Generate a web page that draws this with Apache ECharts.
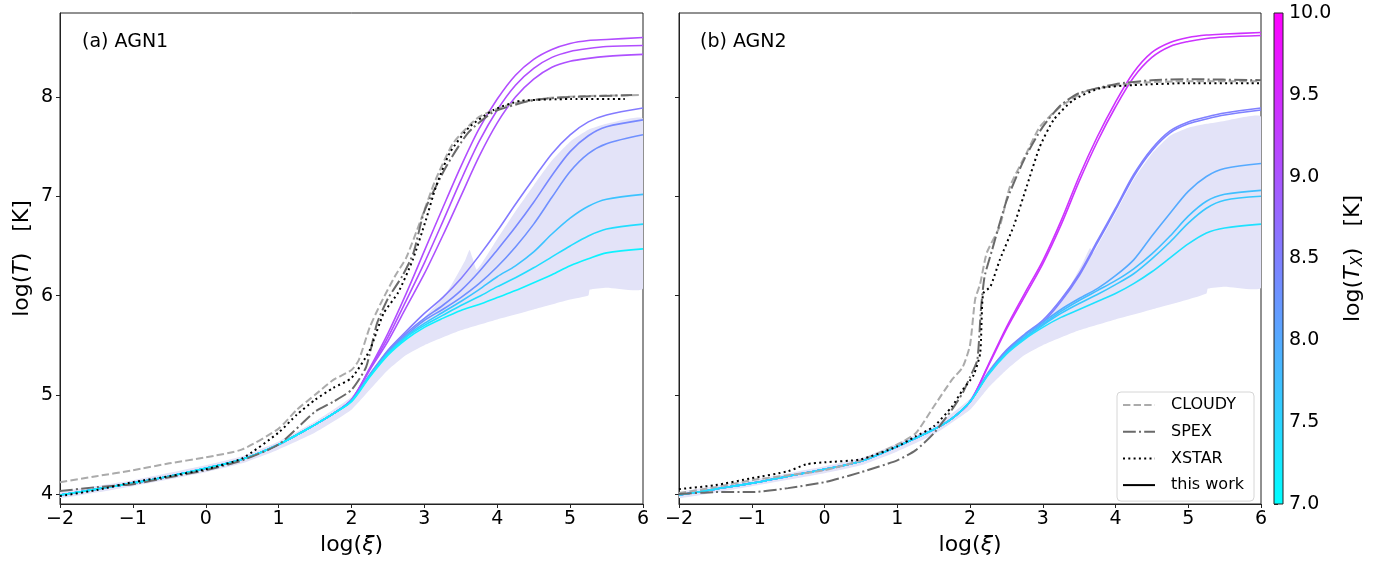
<!DOCTYPE html>
<html>
<head>
<meta charset="utf-8">
<script src="https://cdn.jsdelivr.net/npm/echarts@6/dist/echarts.min.js"></script>
<style>
  html, body { margin: 0; padding: 0; background: #fff; }
  #chart { width: 1384px; height: 564px; }
</style>
</head>
<body>
<div id="chart"></div>
<script>
// ---------------- data ----------------
// log(xi) grid shared by the model curves ("this work")
const LOG_XI = [-2, -1.5, -1, -0.5, 0, 0.5, 1, 1.5, 1.75, 2, 2.25, 2.5, 2.75, 3, 3.25, 3.5, 3.75, 4, 4.25, 4.5, 4.75, 5, 5.25, 5.5, 6];

// AGN1 model curves, log(T)
const AGN1_T = [
  [3.99, 4.05, 4.11, 4.18, 4.26, 4.35, 4.50, 4.70, 4.81, 4.95, 5.27, 5.62, 6.02, 6.45, 6.88, 7.30, 7.68, 7.98, 8.22, 8.38, 8.48, 8.54, 8.57, 8.58, 8.60],
  [3.99, 4.05, 4.11, 4.18, 4.26, 4.35, 4.50, 4.70, 4.81, 4.95, 5.26, 5.58, 5.95, 6.33, 6.74, 7.16, 7.55, 7.87, 8.12, 8.29, 8.40, 8.46, 8.49, 8.51, 8.52],
  [3.99, 4.05, 4.11, 4.18, 4.26, 4.35, 4.50, 4.70, 4.81, 4.95, 5.25, 5.54, 5.88, 6.22, 6.60, 7.00, 7.40, 7.74, 8.00, 8.18, 8.30, 8.36, 8.39, 8.41, 8.43],
  [3.99, 4.05, 4.11, 4.18, 4.26, 4.35, 4.50, 4.70, 4.81, 4.94, 5.20, 5.45, 5.64, 5.82, 5.98, 6.17, 6.40, 6.65, 6.92, 7.18, 7.43, 7.62, 7.75, 7.82, 7.89],
  [3.99, 4.05, 4.11, 4.18, 4.26, 4.35, 4.50, 4.70, 4.81, 4.94, 5.20, 5.44, 5.62, 5.77, 5.90, 6.05, 6.24, 6.46, 6.69, 6.94, 7.21, 7.45, 7.61, 7.70, 7.77],
  [3.99, 4.05, 4.11, 4.18, 4.26, 4.35, 4.50, 4.70, 4.81, 4.94, 5.20, 5.43, 5.60, 5.75, 5.86, 5.98, 6.12, 6.29, 6.49, 6.72, 6.99, 7.25, 7.43, 7.53, 7.62],
  [3.99, 4.05, 4.11, 4.18, 4.26, 4.35, 4.50, 4.70, 4.81, 4.94, 5.19, 5.42, 5.59, 5.72, 5.83, 5.94, 6.06, 6.19, 6.30, 6.44, 6.62, 6.78, 6.90, 6.97, 7.02],
  [3.99, 4.05, 4.11, 4.18, 4.26, 4.35, 4.50, 4.70, 4.81, 4.94, 5.19, 5.41, 5.58, 5.70, 5.80, 5.90, 5.99, 6.09, 6.18, 6.28, 6.39, 6.50, 6.60, 6.67, 6.72],
  [3.99, 4.05, 4.11, 4.18, 4.26, 4.35, 4.50, 4.70, 4.81, 4.93, 5.18, 5.40, 5.56, 5.68, 5.77, 5.85, 5.91, 5.98, 6.05, 6.13, 6.21, 6.30, 6.37, 6.43, 6.47]
];
// log(T_X) of each AGN1 curve (sets its colour)
const AGN1_TX = [9.10, 9.08, 9.05, 8.55, 8.40, 8.30, 7.70, 7.40, 7.15];

// AGN2 model curves, log(T)
const AGN2_T = [
  [3.99, 4.05, 4.11, 4.18, 4.25, 4.33, 4.48, 4.65, 4.76, 4.93, 5.30, 5.68, 6.02, 6.35, 6.75, 7.20, 7.60, 7.95, 8.25, 8.45, 8.55, 8.60, 8.625, 8.635, 8.65],
  [3.99, 4.05, 4.11, 4.18, 4.25, 4.33, 4.48, 4.65, 4.76, 4.93, 5.29, 5.66, 5.99, 6.32, 6.71, 7.15, 7.55, 7.90, 8.20, 8.40, 8.51, 8.56, 8.59, 8.605, 8.62],
  [3.99, 4.05, 4.11, 4.18, 4.25, 4.33, 4.48, 4.65, 4.76, 4.93, 5.22, 5.45, 5.61, 5.75, 5.96, 6.22, 6.55, 6.88, 7.22, 7.48, 7.66, 7.75, 7.80, 7.84, 7.89],
  [3.99, 4.05, 4.11, 4.18, 4.25, 4.33, 4.48, 4.65, 4.76, 4.93, 5.22, 5.44, 5.60, 5.73, 5.94, 6.20, 6.53, 6.86, 7.20, 7.46, 7.64, 7.73, 7.78, 7.82, 7.87],
  [3.99, 4.05, 4.11, 4.18, 4.25, 4.33, 4.48, 4.65, 4.76, 4.93, 5.21, 5.43, 5.60, 5.73, 5.86, 5.97, 6.07, 6.20, 6.36, 6.60, 6.83, 7.05, 7.20, 7.28, 7.33],
  [3.99, 4.05, 4.11, 4.18, 4.25, 4.33, 4.48, 4.65, 4.76, 4.93, 5.21, 5.42, 5.58, 5.71, 5.84, 5.95, 6.05, 6.15, 6.27, 6.42, 6.60, 6.80, 6.95, 7.02, 7.06],
  [3.99, 4.05, 4.11, 4.18, 4.25, 4.33, 4.48, 4.65, 4.76, 4.93, 5.21, 5.42, 5.57, 5.70, 5.82, 5.92, 6.01, 6.11, 6.22, 6.37, 6.54, 6.73, 6.88, 6.96, 7.00],
  [3.99, 4.05, 4.11, 4.18, 4.25, 4.33, 4.48, 4.65, 4.76, 4.93, 5.20, 5.41, 5.56, 5.68, 5.78, 5.86, 5.94, 6.02, 6.12, 6.24, 6.38, 6.52, 6.63, 6.68, 6.72]
];
const AGN2_TX = [9.42, 9.40, 8.50, 8.48, 8.00, 7.75, 7.65, 7.35];

// Photoionisation codes, [log(xi), log(T)]
const AGN1_CLOUDY = [[-2, 4.12], [-1.5, 4.18], [-1, 4.24], [-0.5, 4.31], [0, 4.37], [0.5, 4.45], [1, 4.66], [1.25, 4.85], [1.5, 5.0], [1.75, 5.15], [2, 5.25], [2.1, 5.35], [2.25, 5.68], [2.4, 5.92], [2.6, 6.2], [2.75, 6.38], [2.95, 6.76], [3.15, 7.16], [3.4, 7.54], [3.75, 7.8], [4.2, 7.93], [4.7, 7.99], [5.2, 8.01], [5.95, 8.02]];
const AGN1_SPEX = [[-2, 4.03], [-1.5, 4.07], [-1, 4.1], [-0.5, 4.17], [0, 4.24], [0.5, 4.34], [1, 4.5], [1.5, 4.83], [1.75, 4.93], [2, 5.05], [2.2, 5.28], [2.35, 5.72], [2.5, 5.97], [2.7, 6.2], [2.85, 6.43], [3.0, 6.85], [3.3, 7.3], [3.6, 7.64], [3.95, 7.85], [4.5, 7.97], [5.0, 8.0], [5.85, 8.02]];
const AGN1_XSTAR = [[-2, 3.98], [-1.5, 4.04], [-1, 4.12], [-0.5, 4.18], [0, 4.25], [0.5, 4.36], [1, 4.62], [1.25, 4.8], [1.5, 4.95], [1.75, 5.07], [2, 5.17], [2.25, 5.45], [2.44, 5.82], [2.64, 6.03], [2.84, 6.36], [3.02, 6.76], [3.16, 7.1], [3.35, 7.44], [3.62, 7.7], [3.95, 7.87], [4.31, 7.96], [5.0, 7.98], [5.75, 7.98]];

const AGN2_CLOUDY = [[-2, 4.01], [-1.5, 4.07], [-1, 4.14], [-0.5, 4.19], [0, 4.24], [0.5, 4.34], [1, 4.5], [1.25, 4.61], [1.5, 4.88], [1.75, 5.15], [1.9, 5.28], [2.0, 5.5], [2.07, 5.96], [2.14, 6.12], [2.23, 6.43], [2.41, 6.7], [2.55, 7.1], [2.78, 7.44], [2.96, 7.7], [3.24, 7.9], [3.6, 8.06], [4.25, 8.14], [5, 8.16], [6, 8.16]];
const AGN2_SPEX = [[-2, 4.0], [-1.5, 4.02], [-1, 4.02], [-0.5, 4.06], [0, 4.12], [0.5, 4.22], [1, 4.34], [1.25, 4.44], [1.5, 4.61], [1.75, 4.85], [1.9, 5.02], [2.0, 5.18], [2.1, 5.35], [2.15, 5.86], [2.2, 6.19], [2.3, 6.45], [2.5, 6.95], [2.75, 7.38], [3.0, 7.7], [3.25, 7.92], [3.5, 8.04], [4.0, 8.13], [4.5, 8.17], [5.0, 8.18], [6, 8.17]];
const AGN2_XSTAR = [[-2, 4.05], [-1.5, 4.09], [-1, 4.16], [-0.5, 4.23], [-0.25, 4.3], [0, 4.32], [0.5, 4.35], [1, 4.48], [1.25, 4.58], [1.5, 4.68], [1.75, 4.88], [1.9, 5.05], [2.05, 5.2], [2.14, 5.42], [2.18, 6.02], [2.28, 6.09], [2.41, 6.36], [2.6, 6.7], [2.78, 7.1], [2.96, 7.5], [3.15, 7.77], [3.42, 7.97], [3.79, 8.09], [4.24, 8.12], [5, 8.14], [6, 8.14]];

// Spread of the model grid (shaded envelope), upper and lower edges
const AGN1_BAND_TOP = [[-2, 4.02], [-1, 4.14], [0, 4.29], [0.5, 4.38], [1, 4.53], [1.5, 4.73], [2, 4.98], [2.25, 5.23], [2.5, 5.46], [2.75, 5.62], [3, 5.78], [3.3, 6.02], [3.55, 6.34], [3.62, 6.46], [3.66, 6.38], [3.72, 6.26], [4, 6.57], [4.25, 6.85], [4.5, 7.11], [4.75, 7.36], [5, 7.55], [5.25, 7.67], [5.5, 7.73], [6, 7.78]];
const AGN1_BAND_BOTTOM = [[-2, 3.96], [-1, 4.08], [0, 4.22], [0.5, 4.31], [1, 4.45], [1.5, 4.62], [2, 4.85], [2.25, 5.05], [2.5, 5.25], [2.75, 5.4], [3, 5.5], [3.5, 5.65], [4, 5.76], [4.5, 5.86], [5, 5.96], [5.25, 6.0], [5.27, 6.06], [5.5, 6.08], [6, 6.07]];
const AGN2_BAND_TOP = [[-2, 4.02], [-1, 4.14], [0, 4.28], [0.5, 4.36], [1, 4.51], [1.5, 4.68], [2, 4.96], [2.25, 5.25], [2.5, 5.46], [2.75, 5.6], [3, 5.73], [3.3, 6.0], [3.55, 6.33], [3.65, 6.48], [3.69, 6.43], [3.75, 6.5], [4, 6.83], [4.25, 7.17], [4.5, 7.43], [4.75, 7.61], [5, 7.69], [5.25, 7.73], [5.5, 7.76], [6, 7.8]];
const AGN2_BAND_BOTTOM = [[-2, 3.96], [-1, 4.08], [0, 4.21], [0.5, 4.29], [1, 4.43], [1.5, 4.6], [2, 4.85], [2.25, 5.07], [2.5, 5.25], [2.75, 5.4], [3, 5.5], [3.5, 5.65], [4, 5.76], [4.5, 5.86], [5, 5.96], [5.25, 6.02], [5.27, 6.07], [5.5, 6.09], [6, 6.08]];

// Axes
const X_RANGE = [-2, 6];
const Y_RANGE = [3.9, 8.847];
const Y_TICKS = [4, 5, 6, 7, 8];
const TX_RANGE = [7, 10];
const PANEL_TITLES = ['(a) AGN1', '(b) AGN2'];
const CODE_NAMES = ['CLOUDY', 'SPEX', 'XSTAR'];

// ---------------- drawing ----------------
const FONT = 'DejaVu Sans';
const BAND_COLOR = 'rgb(227,227,248)';

// matplotlib "cool" colormap: cyan -> magenta
function cool(v) {
  const t = Math.max(0, Math.min(1, (v - TX_RANGE[0]) / (TX_RANGE[1] - TX_RANGE[0])));
  return 'rgb(' + Math.round(255 * t) + ',' + Math.round(255 * (1 - t)) + ',255)';
}
const minusFmt = v => String(v).replace('-', '\u2212');

function modelSeries(curves, txs, gi) {
  return curves.map((ys, k) => ({
    type: 'line', name: 'model ' + gi + '-' + k,
    xAxisIndex: gi, yAxisIndex: gi,
    data: LOG_XI.map((x, i) => [x, ys[i]]),
    symbol: 'none', smooth: 0.3,
    lineStyle: { color: cool(txs[k]), width: 1.6 },
    itemStyle: { color: cool(txs[k]) },
    z: 3, silent: true, animation: false
  }));
}

const CODE_STYLE = {
  CLOUDY: { color: '#ababab', type: [7.4, 3.2] },
  SPEX: { color: '#6a6a6a', type: [12.8, 3.2, 2, 3.2] },
  XSTAR: { color: '#000000', type: [2, 3.3] }
};
function codeSeries(name, pts, gi) {
  const st = CODE_STYLE[name];
  return {
    type: 'line', name: name, xAxisIndex: gi, yAxisIndex: gi,
    data: pts, symbol: 'none', smooth: 0.2,
    lineStyle: { color: st.color, width: 2, type: st.type },
    itemStyle: { color: st.color },
    z: 4, silent: true, animation: false
  };
}

function bandSeries(top, bottom, gi) {
  return {
    type: 'custom', xAxisIndex: gi, yAxisIndex: gi, z: 1, silent: true, clip: true,
    data: [[top[0][0], top[0][1]]],
    renderItem: function (params, api) {
      const pts = top.map(p => api.coord(p)).concat(bottom.slice().reverse().map(p => api.coord(p)));
      return { type: 'polygon', shape: { points: pts, smooth: 0.15 }, style: { fill: BAND_COLOR } };
    },
    animation: false
  };
}

function xAxisFor(gi) {
  return {
    type: 'value', gridIndex: gi, min: X_RANGE[0], max: X_RANGE[1], interval: 1,
    axisLine: { show: true, onZero: false, lineStyle: { color: '#222', width: 1 } },
    axisTick: { show: true, inside: false, length: 4, lineStyle: { color: '#222' } },
    axisLabel: { fontFamily: FONT, fontSize: 19, color: '#000', margin: 6, formatter: minusFmt },
    splitLine: { show: false },
    name: '{n|log(}{i|\u03BE}{n|)}', nameLocation: 'middle', nameGap: 30,
    nameTextStyle: {
      rich: {
        n: { fontFamily: FONT, fontSize: 22, color: '#000' },
        i: { fontFamily: FONT, fontSize: 22, fontStyle: 'italic', color: '#000' }
      }
    }
  };
}
function yAxisFor(gi, withLabels) {
  const ax = {
    type: 'value', gridIndex: gi, min: Y_RANGE[0], max: Y_RANGE[1],
    axisLine: { show: true, onZero: false, lineStyle: { color: '#222', width: 1 } },
    axisTick: { show: true, inside: false, length: 4, customValues: Y_TICKS, lineStyle: { color: '#222' } },
    axisLabel: { show: withLabels, customValues: Y_TICKS, fontFamily: FONT, fontSize: 19, color: '#000', margin: 7 },
    splitLine: { show: false }
  };
  if (withLabels) {
    ax.name = '{n|log(}{i|T}{n|)   [K]}';
    ax.nameLocation = 'middle';
    ax.nameGap = 27;
    ax.nameRotate = 90;
    ax.nameTextStyle = {
      rich: {
        n: { fontFamily: FONT, fontSize: 22, color: '#000' },
        i: { fontFamily: FONT, fontSize: 22, fontStyle: 'italic', color: '#000' }
      }
    };
  }
  return ax;
}

const series = [];
series.push(bandSeries(AGN1_BAND_TOP, AGN1_BAND_BOTTOM, 0));
series.push(bandSeries(AGN2_BAND_TOP, AGN2_BAND_BOTTOM, 1));
series.push(...modelSeries(AGN1_T, AGN1_TX, 0));
series.push(...modelSeries(AGN2_T, AGN2_TX, 1));
series.push(codeSeries('CLOUDY', AGN1_CLOUDY, 0), codeSeries('SPEX', AGN1_SPEX, 0), codeSeries('XSTAR', AGN1_XSTAR, 0));
series.push(codeSeries('CLOUDY', AGN2_CLOUDY, 1), codeSeries('SPEX', AGN2_SPEX, 1), codeSeries('XSTAR', AGN2_XSTAR, 1));
// legend entry for the model curves
series.push({
  type: 'line', name: 'this work', xAxisIndex: 1, yAxisIndex: 1, data: [], symbol: 'none',
  lineStyle: { color: '#000', width: 2 }, itemStyle: { color: '#000' }
});
// colour bar
series.push({
  type: 'custom', xAxisIndex: 2, yAxisIndex: 2, z: 1, silent: true, animation: false,
  data: [[0, TX_RANGE[0]]],
  renderItem: function (params, api) {
    const p0 = api.coord([0, TX_RANGE[1]]);
    const p1 = api.coord([1, TX_RANGE[0]]);
    return {
      type: 'rect',
      shape: { x: p0[0], y: p0[1], width: p1[0] - p0[0], height: p1[1] - p0[1] },
      style: {
        fill: new echarts.graphic.LinearGradient(0, 1, 0, 0, [
          { offset: 0, color: cool(TX_RANGE[0]) },
          { offset: 1, color: cool(TX_RANGE[1]) }
        ])
      }
    };
  }
});

const option = {
  backgroundColor: '#fff',
  animation: false,
  textStyle: { fontFamily: FONT },
  grid: [
    { left: 60, top: 13, width: 583, height: 491, show: true, borderColor: '#222', borderWidth: 1, backgroundColor: 'transparent' },
    { left: 679, top: 13, width: 582, height: 491, show: true, borderColor: '#222', borderWidth: 1, backgroundColor: 'transparent' },
    { left: 1274, top: 13, width: 9, height: 491, show: true, borderColor: '#222', borderWidth: 1, backgroundColor: 'transparent', z: 5 }
  ],
  xAxis: [
    xAxisFor(0), xAxisFor(1),
    { type: 'value', gridIndex: 2, min: 0, max: 1, show: false }
  ],
  yAxis: [
    yAxisFor(0, true), yAxisFor(1, false),
    {
      type: 'value', gridIndex: 2, min: TX_RANGE[0], max: TX_RANGE[1], interval: 0.5, position: 'right',
      axisLine: { show: false },
      axisTick: { show: true, inside: false, length: 4, lineStyle: { color: '#222' } },
      axisLabel: { fontFamily: FONT, fontSize: 19, color: '#000', margin: 6, formatter: v => v.toFixed(1) },
      splitLine: { show: false },
      name: '{n|log(}{i|T}{s|X}{n|)   [K]}', nameLocation: 'middle', nameGap: 58, nameRotate: 90,
      nameTextStyle: {
        rich: {
          n: { fontFamily: FONT, fontSize: 22, color: '#000' },
          i: { fontFamily: FONT, fontSize: 22, fontStyle: 'italic', color: '#000' },
          s: { fontFamily: FONT, fontSize: 15, fontStyle: 'italic', color: '#000', verticalAlign: 'bottom', padding: [10, 0, 0, 0] }
        }
      }
    }
  ],
  legend: {
    data: CODE_NAMES.concat(['this work']),
    left: 1117, top: 392, orient: 'vertical',
    itemWidth: 32, itemHeight: 14, itemGap: 10.7,
    padding: [5, 10, 8, 5],
    borderColor: '#d6d6d6', borderWidth: 1, borderRadius: 4,
    backgroundColor: 'rgba(255,255,255,0.85)',
    selectedMode: false,
    itemStyle: { opacity: 0, borderWidth: 0 },
    lineStyle: { opacity: 1 },
    textStyle: { fontFamily: FONT, fontSize: 16, color: '#000', padding: [0, 0, 0, 11] }
  },
  graphic: [
    { type: 'text', left: 82, top: 33, style: { text: PANEL_TITLES[0], font: '19px "DejaVu Sans"', fill: '#000' } },
    { type: 'text', left: 700, top: 33, style: { text: PANEL_TITLES[1], font: '19px "DejaVu Sans"', fill: '#000' } }
  ],
  series: series
};

const chart = echarts.init(document.getElementById('chart'), null, { renderer: 'canvas' });
chart.setOption(option);
</script>
</body>
</html>
